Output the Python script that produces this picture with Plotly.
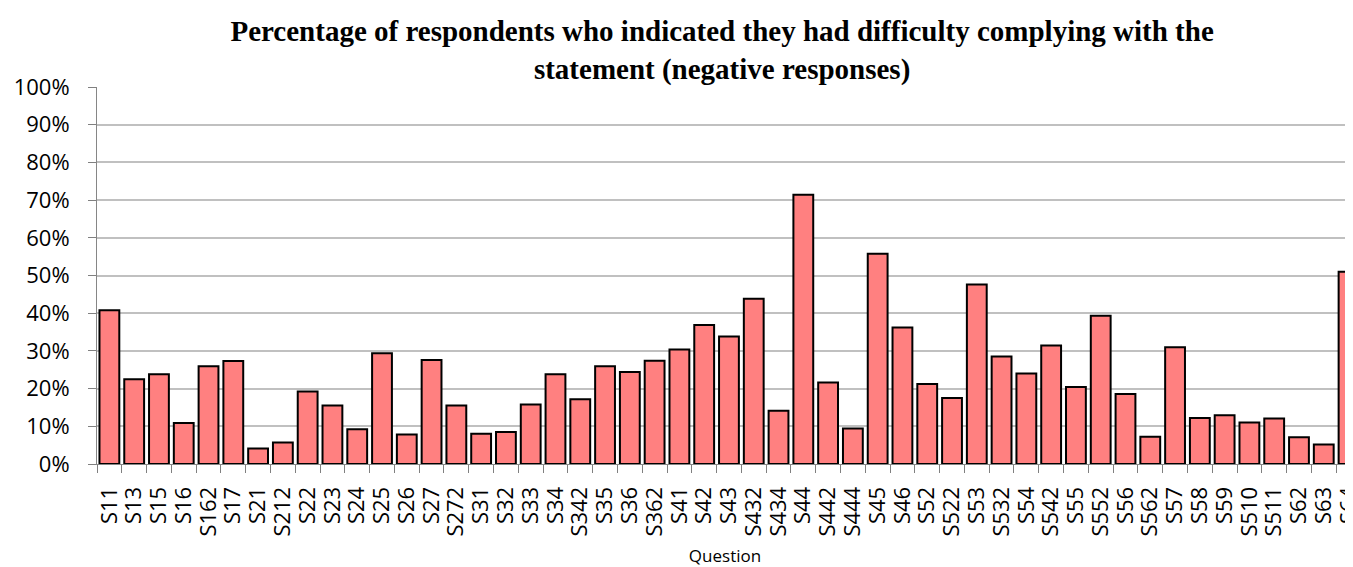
import plotly.graph_objects as go

categories = ["S11", "S13", "S15", "S16", "S162", "S17", "S21", "S212", "S22", "S23",
              "S24", "S25", "S26", "S27", "S272", "S31", "S32", "S33", "S34", "S342",
              "S35", "S36", "S362", "S41", "S42", "S43", "S432", "S434", "S44", "S442",
              "S444", "S45", "S46", "S52", "S522", "S53", "S532", "S54", "S542", "S55",
              "S552", "S56", "S562", "S57", "S58", "S59", "S510", "S511", "S62", "S63", "S64"]
values = [40.8, 22.5, 23.8, 10.9, 25.9, 27.3, 4.1, 5.7, 19.2, 15.5,
          9.2, 29.4, 7.8, 27.6, 15.5, 8.0, 8.5, 15.8, 23.8, 17.2,
          25.9, 24.4, 27.4, 30.4, 36.9, 33.8, 43.8, 14.1, 71.4, 21.6,
          9.4, 55.8, 36.2, 21.2, 17.5, 47.6, 28.5, 24.0, 31.4, 20.4,
          39.3, 18.6, 7.2, 31.0, 12.2, 12.9, 11.0, 12.1, 7.1, 5.2, 51.0]
y_ticks = [0, 10, 20, 30, 40, 50, 60, 70, 80, 90, 100]

title_text = ("Percentage of respondents who indicated they had difficulty complying with the"
              "<br>statement (negative responses)")

fig = go.Figure(go.Bar(
    x=categories, y=values,
    marker=dict(color="#FF8080", line=dict(color="#000000", width=2)),
))

fig.update_layout(
    width=1345, height=559,
    margin=dict(l=89, r=0, t=79, b=103, autoexpand=False),
    paper_bgcolor="white", plot_bgcolor="white",
    bargap=0.2,
    showlegend=False,
    title=dict(text=title_text, x=0.4977, xref="paper", xanchor="center",
               y=1 - 33 / 559, yref="container", yanchor="top",
               font=dict(family="Liberation Serif", size=29, color="black", weight="bold")),
)

fig.update_xaxes(
    type="category", range=[-0.5, 50.18], automargin=False,
    tickmode="linear", tick0=0, dtick=1,
    tickson="boundaries", ticks="outside", ticklen=8, tickcolor="#808080", tickwidth=1,
    tickangle=-90, tickfont=dict(family="Open Sans", size=22, color="black"),
    showline=True, linecolor="#868686", linewidth=1,
    showgrid=False, zeroline=False,
    title=dict(text="Question", font=dict(family="Open Sans", size=17, color="black"), standoff=17),
    ticklabelstandoff=13,
)
fig.update_yaxes(
    range=[0, 100], tickvals=y_ticks, ticktext=[f"{v}%" for v in y_ticks], automargin=False,
    ticks="outside", ticklen=8, tickcolor="#808080", tickwidth=1,
    tickfont=dict(family="Open Sans", size=22, color="black"),
    showline=True, linecolor="#868686", linewidth=1,
    showgrid=True, gridcolor="#C0C0C0", gridwidth=2, zeroline=False,
    ticklabelstandoff=14,
)

fig.write_html("out.html")
